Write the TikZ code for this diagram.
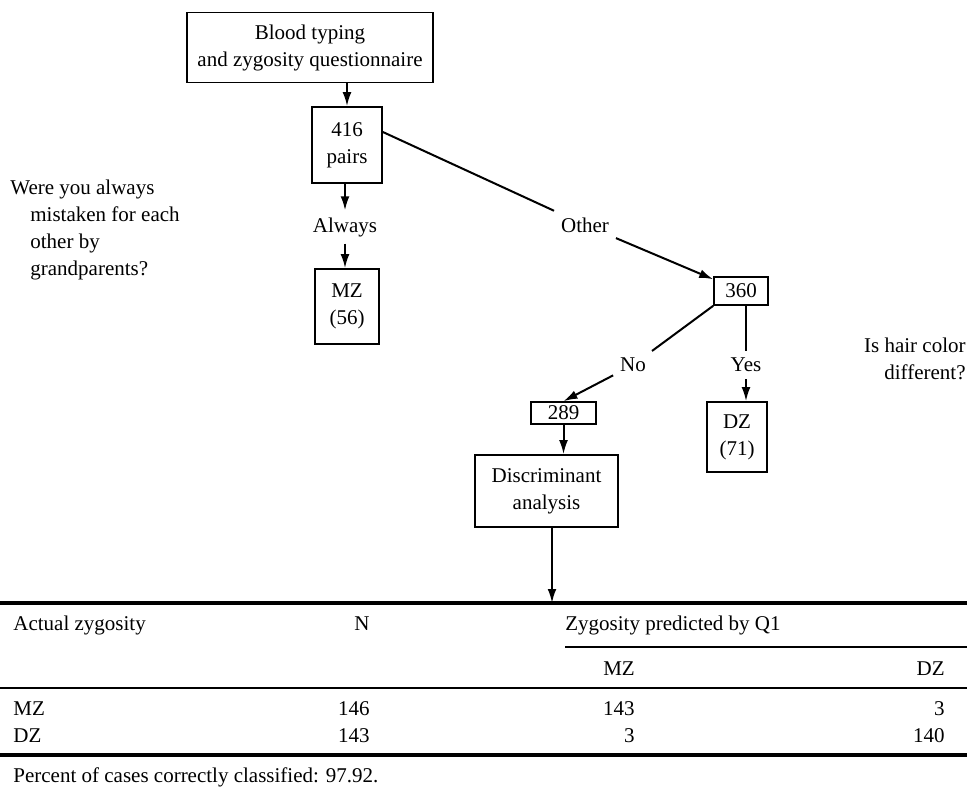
\documentclass[tikz,border=0pt]{standalone}
\usepackage{fontspec}
\setmainfont{Liberation Serif}
\usetikzlibrary{arrows.meta}

\begin{document}
\begin{tikzpicture}[x=0.5pt,y=-0.5pt,
  font=\fontsize{10.5}{13.5}\selectfont,
  blk/.style={draw,line width=0.8pt,align=center,inner sep=1pt},
  arr/.style={-{Latex[length=7pt,width=4.4pt]},line width=1pt},
  lnk/.style={line width=1pt},
  cell/.style={inner sep=0pt},
  thinrule/.style={line width=1pt},
  heavyrule/.style={line width=1.6pt}]
\useasboundingbox (0,0) rectangle (967,787);
% the tree
\node[blk,minimum width=123pt,minimum height=35pt](blood) at (310,47.5) {Blood typing\\and zygosity questionnaire};
\node[blk,minimum width=35pt,minimum height=38pt](pairs) at (347,145) {416\\pairs};
\node(always) at (345,227) {Always};
\node[blk,minimum width=32pt,minimum height=37.5pt](mz) at (347,306.5) {MZ\\(56)};
\node(other) at (585,225) {Other};
\node[blk,minimum width=27pt,minimum height=14pt](n360) at (741,291) {360};
\node(no) at (633,365) {No};
\node(yes) at (746,365) {Yes};
\node[blk,minimum width=30pt,minimum height=35pt](dz) at (737,437) {DZ\\(71)};
\node[blk,minimum width=32.5pt,minimum height=11pt](n289) at (563.5,413) {289};
\node[blk,minimum width=71.5pt,minimum height=36pt](disc) at (546.5,491) {Discriminant\\analysis};
\coordinate(tabin) at (552,603);
%
\node[cell,anchor=north west,align=left](askmz) at (10,180) {Were you always\\\hspace*{10pt}mistaken for each\\\hspace*{10pt}other by\\\hspace*{10pt}grandparents?};
\node[cell,anchor=north east,align=right](askhair) at (966,338) {Is hair color\\different?};
%
\draw[arr](pairs.north |- blood.south) -- (pairs.north);
\draw[arr](always.north |- pairs.south) -- (always.north);
\draw[arr](always.south) -- (always.south |- mz.north);
\draw[lnk](pairs.20) -- (other);
\draw[arr](other) -- (n360);
\draw[lnk](n360.south west) -- (no);
\draw[arr](no) -- (n289.north);
\draw[lnk](yes |- n360.south) -- (yes);
\draw[arr](yes) -- (yes |- dz.north);
\draw[arr](n289.south) -- (n289.south |- disc.north);
\draw[arr](tabin |- disc.south) -- (tabin);
% the table
\draw[heavyrule](0,603) -- (967,603);
\draw[thinrule](565,647) -- (967,647);
\draw[thinrule](0,688) -- (967,688);
\draw[heavyrule](0,755) -- (967,755);
\node[cell,anchor=base west](hactual) at (13,630) {Actual zygosity};
\node[cell,anchor=base](hn) at (362,630) {N};
\node[cell,anchor=base west](hpred) at (565,630) {Zygosity predicted by Q1};
\node[cell,anchor=base](hmz) at (619,675) {MZ};
\node[cell,anchor=base east](hdz) at (945,675) {DZ};
\node[cell,anchor=base west](rmz) at (13,715) {MZ};
\node[cell,anchor=base east](rmzn) at (370,715) {146};
\node[cell,anchor=base east](rmzmz) at (635,715) {143};
\node[cell,anchor=base east](rmzdz) at (945,715) {3};
\node[cell,anchor=base west](rdz) at (13,742) {DZ};
\node[cell,anchor=base east](rdzn) at (370,742) {143};
\node[cell,anchor=base east](rdzmz) at (635,742) {3};
\node[cell,anchor=base east](rdzdz) at (945,742) {140};
\node[cell,anchor=base west](pct) at (13,782) {Percent of cases correctly classified: 97.92.};
\end{tikzpicture}
\end{document}
